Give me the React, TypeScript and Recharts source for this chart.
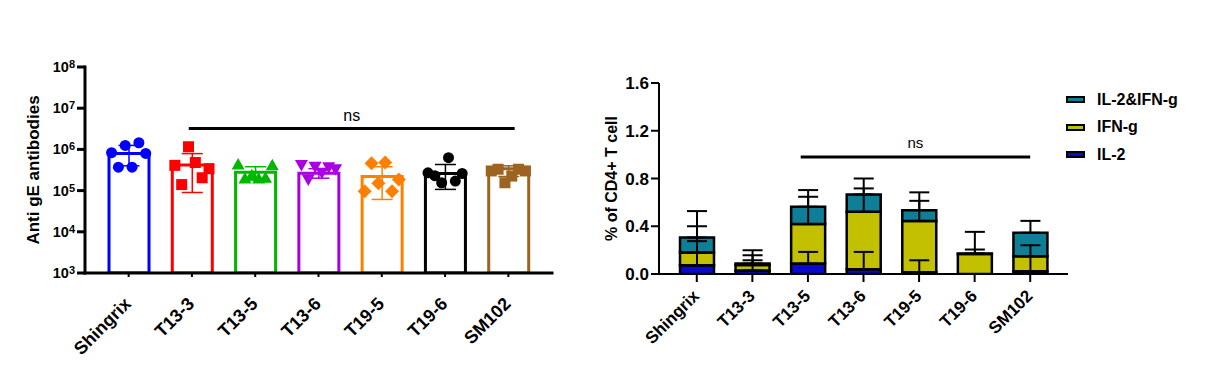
import React from "react";
import {
  Bar,
  Cell,
  ComposedChart,
  ErrorBar,
  Legend,
  ReferenceLine,
  Scatter,
  XAxis,
  YAxis,
} from "recharts";

const groups = ["Shingrix", "T13-3", "T13-5", "T13-6", "T19-5", "T19-6", "SM102"];

// left panel: anti-gE titers (log scale)
const titerMean = [8.0e5, 4.2e5, 2.8e5, 2.65e5, 2.2e5, 2.6e5, 3.4e5];
const titerLow = [4.0e5, 9.0e4, 1.8e5, 2.0e5, 6.1e4, 1.07e5, 2.2e5];
const titerHigh = [1.25e6, 7.9e5, 3.8e5, 3.4e5, 3.8e5, 4.3e5, 4.0e5];
const titerPoints = [
  [8.3e5, 3.7e5, 1.25e6, 3.7e5, 1.45e6, 8.0e5],
  [4.1e5, 1.4e5, 1.16e6, 4.8e5, 2.05e5, 3.4e5],
  [4.2e5, 1.9e5, 2.3e5, 1.9e5, 2.0e5, 4.0e5],
  [4.3e5, 1.9e5, 3.9e5, 2.8e5, 3.8e5, 3.4e5],
  [9.7e4, 4.6e5, 1.5e5, 4.8e5, 9.7e4, 1.87e5],
  [2.7e5, 2.3e5, 1.55e5, 6.3e5, 1.7e5, 2.6e5],
  [3.0e5, 3.3e5, 1.55e5, 2.25e5, 3.3e5, 3.0e5],
];
const titerTicks = [1e3, 1e4, 1e5, 1e6, 1e7, 1e8];
const titerSig = 3.2e6;

// right panel: % of CD4+ T cells, stacked
const il2 = [0.073, 0.03, 0.087, 0.04, 0.015, 0, 0.023];
const ifng = [0.107, 0.045, 0.331, 0.481, 0.43, 0.168, 0.126];
const both = [0.126, 0.012, 0.145, 0.146, 0.09, 0.003, 0.196];
const il2Sd = [0.202, 0.085, 0.098, 0.145, 0.1, 0, 0.127];
const ifngSd = [0.22, 0.082, 0.229, 0.196, 0.168, 0.185, 0.092];
const bothSd = [0.221, 0.112, 0.14, 0.133, 0.149, 0.034, 0.1];
const cellTicks = [0, 0.4, 0.8, 1.2, 1.6];
const cellSig = 0.98;

const groupColors = ["#0000ff", "#ff0000", "#00b800", "#a800e0", "#ff8000", "#000000", "#9c6420"];
const markerKinds = ["circle", "square", "up", "down", "diamond", "circle", "square"];
const TEAL = "#0f7e97";
const YELLOW = "#c2c000";
const BLUE = "#0a0acc";

const titerRows = groups.map((name, i) => ({
  name,
  mean: titerMean[i],
  [`err${i}`]: [titerMean[i] - titerLow[i], titerHigh[i] - titerMean[i]],
}));

const titerDots = titerPoints.map((vals, i) =>
  vals.map((v, k) => ({ x: i + (k - (vals.length - 1) / 2) * 0.108, y: v }))
);

// all error bars hang off the top series so they are drawn above every segment
const cellRows = groups.map((name, i) => {
  const t1 = il2[i];
  const t2 = t1 + ifng[i];
  const t3 = t2 + both[i];
  return {
    name,
    il2: il2[i],
    ifng: ifng[i],
    both: both[i],
    eIl2: il2Sd[i] ? [t3 - t1, t1 + il2Sd[i] - t3] : undefined,
    eIfng: ifngSd[i] ? [t3 - t2, t2 + ifngSd[i] - t3] : undefined,
    eBoth: bothSd[i] ? [0, bothSd[i]] : undefined,
  };
});

const legendItems = [
  { label: "IL-2&IFN-g", color: TEAL },
  { label: "IFN-g", color: YELLOW },
  { label: "IL-2", color: BLUE },
];

function Marker(props: any) {
  const { cx, cy, kind, color } = props;
  if (cx == null || cy == null) return null;
  const r = 5.5;
  if (kind === "circle") return <circle cx={cx} cy={cy} r={r} fill={color} />;
  if (kind === "square")
    return <rect x={cx - r} y={cy - r} width={2 * r} height={2 * r} fill={color} />;
  if (kind === "up")
    return <polygon points={`${cx},${cy - 7} ${cx + 6.5},${cy + 4.5} ${cx - 6.5},${cy + 4.5}`} fill={color} />;
  if (kind === "down")
    return <polygon points={`${cx},${cy + 7} ${cx + 6.5},${cy - 4.5} ${cx - 6.5},${cy - 4.5}`} fill={color} />;
  return <polygon points={`${cx},${cy - 7} ${cx + 7},${cy} ${cx},${cy + 7} ${cx - 7},${cy}`} fill={color} />;
}

function PowTick(props: any) {
  const { x, y, payload } = props;
  const exp = Math.round(Math.log10(payload.value));
  return (
    <text x={x} y={y} dy={5} textAnchor="end" fontSize={14.5} fontWeight={700} fill="#000">
      10
      <tspan dy={-4} fontSize={11}>
        {exp}
      </tspan>
    </text>
  );
}

function SlantTick(props: any) {
  const { x, y, payload, size, shift } = props;
  return (
    <text
      transform={`translate(${x + 3.5},${y + shift}) rotate(-45)`}
      textAnchor="end"
      fontSize={size}
      fontWeight={700}
      fill="#000"
    >
      {payload.value}
    </text>
  );
}

function CellLegend() {
  return (
    <div>
      {legendItems.map((it) => (
        <div key={it.label} style={{ display: "flex", alignItems: "center", height: 27.5 }}>
          <div
            style={{
              width: 15,
              height: 3,
              background: it.color,
              border: "2px solid #000",
            }}
          />
          <span style={{ marginLeft: 12, fontSize: 16, fontWeight: 700, color: "#000" }}>
            {it.label}
          </span>
        </div>
      ))}
    </div>
  );
}

function TiterChart() {
  return (
    <ComposedChart
      width={600}
      height={383}
      data={titerRows}
      margin={{ top: 67, right: 48, bottom: 0, left: 0 }}
    >
      <XAxis
        xAxisId="cat"
        dataKey="name"
        interval={0}
        height={110}
        padding={{ left: 12, right: 12 }}
        axisLine={{ stroke: "#000", strokeWidth: 3, strokeLinecap: "square" }}
        tickLine={{ stroke: "#000", strokeWidth: 2 }}
        tickSize={4}
        tick={(p: any) => <SlantTick {...p} size={18} shift={26} />}
      />
      <XAxis
        xAxisId="num"
        dataKey="x"
        type="number"
        domain={[-0.5, 6.5]}
        allowDataOverflow
        padding={{ left: 12, right: 12 }}
        hide
      />
      <YAxis
        scale="log"
        domain={[1e3, 1e8]}
        ticks={titerTicks}
        allowDataOverflow
        width={85}
        axisLine={{ stroke: "#000", strokeWidth: 3, strokeLinecap: "square" }}
        tickLine={{ stroke: "#000", strokeWidth: 3 }}
        tickSize={8}
        tick={<PowTick />}
        label={{
          value: "Anti gE antibodies",
          angle: -90,
          position: "insideLeft",
          offset: 33,
          style: { textAnchor: "middle", fontSize: 17, fontWeight: 700, fill: "#000" },
        }}
      />
      <Bar
        xAxisId="cat"
        dataKey="mean"
        barSize={40}
        fill="#fff"
        strokeWidth={3}
        isAnimationActive={false}
      >
        {groups.map((g, i) => (
          <Cell key={g} stroke={groupColors[i]} />
        ))}
        {groups.map((g, i) => (
          <ErrorBar
            key={g}
            dataKey={`err${i}`}
            width={10.5}
            stroke={groupColors[i]}
            strokeWidth={1.5}
            isAnimationActive={false}
          />
        ))}
      </Bar>
      {titerDots.map((pts, i) => (
        <Scatter
          key={groups[i]}
          xAxisId="num"
          data={pts}
          dataKey="y"
          fill={groupColors[i]}
          isAnimationActive={false}
          shape={(p: any) => <Marker {...p} kind={markerKinds[i]} color={groupColors[i]} />}
        />
      ))}
      <ReferenceLine
        xAxisId="num"
        segment={[
          { x: 0.95, y: titerSig },
          { x: 6.1, y: titerSig },
        ]}
        stroke="#000"
        strokeWidth={3}
        label={{ value: "ns", position: "top", offset: 8, fill: "#000", fontSize: 16 }}
      />
    </ComposedChart>
  );
}

function CellChart() {
  return (
    <ComposedChart
      width={656}
      height={383}
      data={cellRows}
      margin={{ top: 83, right: 148, bottom: 0, left: 0 }}
    >
      <XAxis
        xAxisId="cat"
        dataKey="name"
        interval={0}
        height={109}
        padding={{ left: 10, right: 10 }}
        axisLine={{ stroke: "#000", strokeWidth: 2 }}
        tickLine={{ stroke: "#000", strokeWidth: 2 }}
        tickSize={8}
        tick={(p: any) => <SlantTick {...p} size={17} shift={13} />}
      />
      <XAxis
        xAxisId="num"
        dataKey="x"
        type="number"
        domain={[-0.5, 6.5]}
        allowDataOverflow
        padding={{ left: 10, right: 10 }}
        hide
      />
      <YAxis
        domain={[0, 1.6]}
        ticks={cellTicks}
        allowDataOverflow
        width={99}
        axisLine={{ stroke: "#000", strokeWidth: 2 }}
        tickLine={{ stroke: "#000", strokeWidth: 2 }}
        tickSize={8}
        tickFormatter={(v: number) => v.toFixed(1)}
        tick={{ fill: "#000", fontSize: 17, fontWeight: 700 }}
        label={{
          value: "% of CD4+ T cell",
          angle: -90,
          position: "insideLeft",
          offset: 51,
          style: { textAnchor: "middle", fontSize: 16, fontWeight: 700, fill: "#000" },
        }}
      />
      <Bar xAxisId="cat" dataKey="il2" stackId="s" barSize={34} fill={BLUE} stroke="#000" strokeWidth={2.5} isAnimationActive={false} />
      <Bar xAxisId="cat" dataKey="ifng" stackId="s" barSize={34} fill={YELLOW} stroke="#000" strokeWidth={2.5} isAnimationActive={false} />
      <Bar xAxisId="cat" dataKey="both" stackId="s" barSize={34} fill={TEAL} stroke="#000" strokeWidth={2.5} isAnimationActive={false}>
        <ErrorBar dataKey="eIl2" width={10} stroke="#000" strokeWidth={2} isAnimationActive={false} />
        <ErrorBar dataKey="eIfng" width={10} stroke="#000" strokeWidth={2} isAnimationActive={false} />
        <ErrorBar dataKey="eBoth" width={10} stroke="#000" strokeWidth={2} isAnimationActive={false} />
      </Bar>
      <ReferenceLine
        xAxisId="num"
        segment={[
          { x: 1.87, y: cellSig },
          { x: 6.0, y: cellSig },
        ]}
        stroke="#000"
        strokeWidth={3}
        label={{ value: "ns", position: "top", offset: 9, fill: "#000", fontSize: 15 }}
      />
      <Legend
        layout="horizontal"
        align="center"
        verticalAlign="middle"
        wrapperStyle={{ left: 506, top: 86, width: 140 }}
        content={() => <CellLegend />}
      />
    </ComposedChart>
  );
}

export default function App() {
  return (
    <div
      style={{
        position: "absolute",
        left: 0,
        top: 0,
        width: 1216,
        height: 383,
        background: "#fff",
        fontFamily: '"Liberation Sans", Arial, sans-serif',
      }}
    >
      <div style={{ position: "absolute", left: 0, top: 0 }}>
        <TiterChart />
      </div>
      <div style={{ position: "absolute", left: 560, top: 0 }}>
        <CellChart />
      </div>
    </div>
  );
}
